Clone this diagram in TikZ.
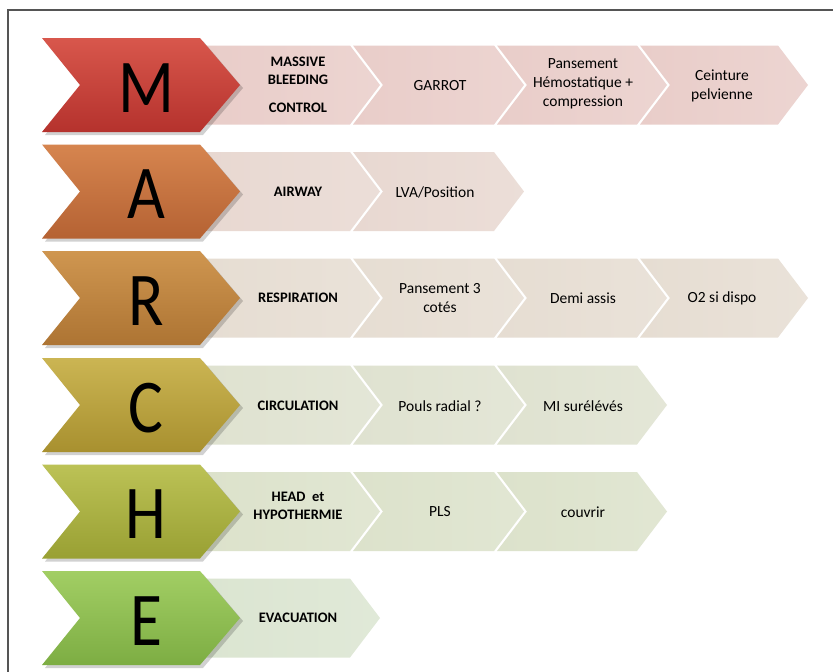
\documentclass[tikz,border=0pt]{standalone}
\usepackage{fontspec}
\setmainfont{Carlito}
\definecolor{mT}{HTML}{D8574C}\definecolor{mB}{HTML}{B5322D}
\definecolor{aT}{HTML}{D6854F}\definecolor{aB}{HTML}{B56233}
\definecolor{rT}{HTML}{CF9650}\definecolor{rB}{HTML}{AD7433}
\definecolor{cT}{HTML}{CBB553}\definecolor{cB}{HTML}{A8902F}
\definecolor{hT}{HTML}{BCC256}\definecolor{hB}{HTML}{99A033}
\definecolor{eT}{HTML}{A2CE64}\definecolor{eB}{HTML}{7DAD43}
\definecolor{mS}{HTML}{E9CDC9}\definecolor{aS}{HTML}{E8D8D1}
\definecolor{rS}{HTML}{E6DDD2}\definecolor{cS}{HTML}{DFE2D0}
\definecolor{hS}{HTML}{DCE2CB}\definecolor{eS}{HTML}{DBE5D1}
\definecolor{frame}{HTML}{555555}
\newcommand\bigchev[3]{%
  \fill[black,opacity=0.18] (45,#1-44) -- (203,#1-44) -- (243,#1+3) -- (203,#1+50) -- (45,#1+50) -- (83,#1+3) -- cycle;
  \shade[top color=#2,bottom color=#3] (42,#1-47) -- (200,#1-47) -- (240,#1) -- (200,#1+47) -- (42,#1+47) -- (80,#1) -- cycle;
}
\newcommand\firstbox[2]{%
  \shade[left color=#2,right color=#2!85!white] (205,#1-39.5) -- (350,#1-39.5) -- (380,#1) -- (350,#1+39.5) -- (205,#1+39.5) -- cycle;
}
\newcommand\nextbox[4]{%
  \shade[left color=#4,right color=#4!85!white] (#2,#1-39.5) -- (#3,#1-39.5) -- (#3+30,#1) -- (#3,#1+39.5) -- (#2,#1+39.5) -- (#2+30,#1) -- cycle;
}
\begin{document}
\begin{tikzpicture}[x=1pt,y=-1pt,
  letter/.style={font=\fontsize{76}{76}\selectfont, text=black, inner sep=0pt, xscale=0.86},
  head/.style={font=\fontsize{14.5}{18}\selectfont\bfseries, align=center, inner sep=0pt},
  item/.style={font=\fontsize{15.5}{19}\selectfont, align=center, inner sep=0pt}]
\useasboundingbox (0,0) rectangle (833,672);
\fill[white] (0,0) rectangle (833,672);
\draw[frame, line width=1.2pt] (8,672) -- (8,10) -- (833,10);

% row M
\firstbox{85}{mS}
\nextbox{85}{353}{494}{mS}
\nextbox{85}{497}{637}{mS}
\nextbox{85}{640}{778}{mS}
\bigchev{85}{mT}{mB}
% row A
\firstbox{191.5}{aS}
\nextbox{191.5}{353}{494}{aS}
\bigchev{191.5}{aT}{aB}
% row R
\firstbox{298}{rS}
\nextbox{298}{353}{494}{rS}
\nextbox{298}{497}{637}{rS}
\nextbox{298}{640}{778}{rS}
\bigchev{298}{rT}{rB}
% row C
\firstbox{405}{cS}
\nextbox{405}{353}{494}{cS}
\nextbox{405}{497}{637}{cS}
\bigchev{405}{cT}{cB}
% row H
\firstbox{511.5}{hS}
\nextbox{511.5}{353}{494}{hS}
\nextbox{511.5}{497}{637}{hS}
\bigchev{511.5}{hT}{hB}
% row E
\firstbox{618}{eS}
\bigchev{618}{eT}{eB}

% letters
\node[letter] (lm) at (146,88) {M};
\node[letter] (la) at (146,194) {A};
\node[letter] (lr) at (146,301) {R};
\node[letter] (lc) at (146,408) {C};
\node[letter] (lh) at (146,514) {H};
\node[letter] (le) at (146,621) {E};

% texts
\node[head] (m1) at (298,85) {MASSIVE\\BLEEDING\\[10pt]CONTROL};
\node[item] (m2) at (440,86) {GARROT};
\node[item] (m3) at (583,84) {Pansement\\Hémostatique +\\compression};
\node[item] (m4) at (722,86) {Ceinture\\pelvienne};

\node[head] (a1) at (298,192) {AIRWAY};
\node[item] (a2) at (435,192) {LVA/Position};

\node[head] (r1) at (298,298) {RESPIRATION};
\node[item] (r2) at (440,298) {Pansement 3\\cotés};
\node[item] (r3) at (583,298) {Demi assis};
\node[item] (r4) at (722,298) {O2 si dispo};

\node[head] (c1) at (298,406) {CIRCULATION};
\node[item] (c2) at (440,406) {Pouls radial ?};
\node[item] (c3) at (583,406) {MI surélévés};

\node[head] (h1) at (298,506) {HEAD\ \ et\\HYPOTHERMIE};
\node[item] (h2) at (440,512) {PLS};
\node[item] (h3) at (583,512) {couvrir};

\node[head] (e1) at (298,618) {EVACUATION};
\end{tikzpicture}
\end{document}
